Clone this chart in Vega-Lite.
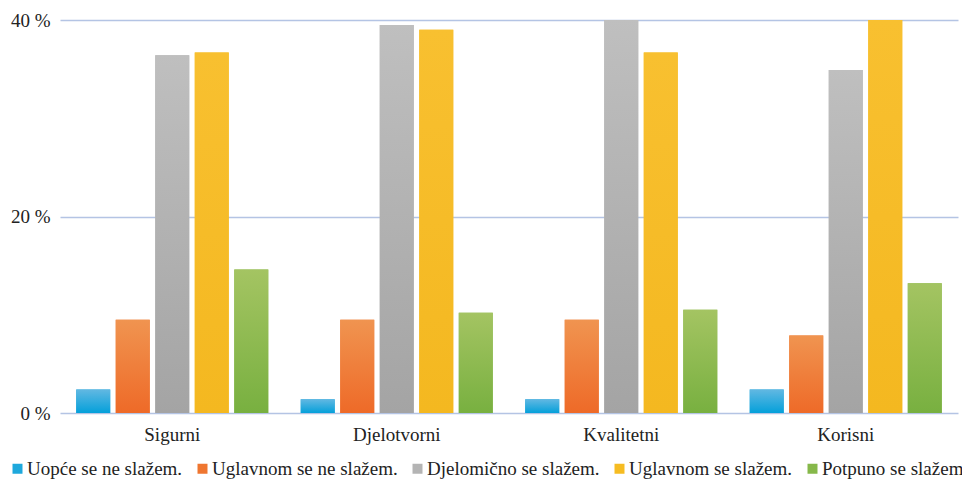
{
  "$schema": "https://vega.github.io/schema/vega-lite/v6.json",
  "width": 898,
  "height": 393,
  "autosize": "none",
  "padding": {"left": 60, "top": 20, "right": 4, "bottom": 69},
  "background": "white",
  "config": {
    "font": "Liberation Serif",
    "view": {"stroke": null}
  },
  "data": {
    "values": [
      {"kat": "Sigurni", "s": "Uopće se ne slažem.", "v": 2.4},
      {"kat": "Sigurni", "s": "Uglavnom se ne slažem.", "v": 9.5},
      {"kat": "Sigurni", "s": "Djelomično se slažem.", "v": 36.4},
      {"kat": "Sigurni", "s": "Uglavnom se slažem.", "v": 36.7},
      {"kat": "Sigurni", "s": "Potpuno se slažem", "v": 14.6},
      {"kat": "Djelotvorni", "s": "Uopće se ne slažem.", "v": 1.4},
      {"kat": "Djelotvorni", "s": "Uglavnom se ne slažem.", "v": 9.5},
      {"kat": "Djelotvorni", "s": "Djelomično se slažem.", "v": 39.5},
      {"kat": "Djelotvorni", "s": "Uglavnom se slažem.", "v": 39.0},
      {"kat": "Djelotvorni", "s": "Potpuno se slažem", "v": 10.2},
      {"kat": "Kvalitetni", "s": "Uopće se ne slažem.", "v": 1.4},
      {"kat": "Kvalitetni", "s": "Uglavnom se ne slažem.", "v": 9.5},
      {"kat": "Kvalitetni", "s": "Djelomično se slažem.", "v": 40.3},
      {"kat": "Kvalitetni", "s": "Uglavnom se slažem.", "v": 36.7},
      {"kat": "Kvalitetni", "s": "Potpuno se slažem", "v": 10.5},
      {"kat": "Korisni", "s": "Uopće se ne slažem.", "v": 2.4},
      {"kat": "Korisni", "s": "Uglavnom se ne slažem.", "v": 7.9},
      {"kat": "Korisni", "s": "Djelomično se slažem.", "v": 34.9},
      {"kat": "Korisni", "s": "Uglavnom se slažem.", "v": 40.0},
      {"kat": "Korisni", "s": "Potpuno se slažem", "v": 13.2}
    ]
  },
  "encoding": {
    "x": {
      "field": "kat", "type": "nominal", "sort": null,
      "scale": {"paddingInner": 0.12, "paddingOuter": 0.06},
      "axis": {"title": null, "labelAngle": 0, "ticks": false, "domain": false, "labelPadding": 12,
        "labelFont": "Liberation Serif", "labelFontSize": 19, "labelColor": "#222222"}
    },
    "xOffset": {
      "field": "s", "type": "nominal", "sort": null,
      "scale": {"paddingInner": 0.14, "paddingOuter": 0.07}
    },
    "y": {
      "field": "v", "type": "quantitative",
      "scale": {"domain": [0, 40], "nice": false, "clamp": true},
      "axis": {"title": null, "values": [0, 20, 40], "ticks": false, "domain": false, "labelPadding": 10,
        "labelFont": "Liberation Serif", "labelFontSize": 19, "labelColor": "#222222",
        "labelExpr": "datum.value + ' %'", "gridColor": "#b4c4e4", "gridWidth": 1.3}
    }
  },
  "layer": [
    {
      "mark": {"type": "bar", "clip": false},
      "encoding": {
        "color": {
          "field": "s", "type": "nominal", "sort": null,
          "scale": {
            "domain": ["Uopće se ne slažem.", "Uglavnom se ne slažem.", "Djelomično se slažem.", "Uglavnom se slažem.", "Potpuno se slažem"],
            "range": ["#1ea8dc", "#ef7630", "#b4b4b4", "#f6bc22", "#86b84a"]
          },
          "legend": {
            "title": null, "orient": "none", "direction": "horizontal", "legendX": -52, "legendY": 439,
            "symbolType": "square", "symbolSize": 100, "symbolStrokeWidth": 0, "labelOffset": 0, "columnPadding": 10,
            "labelFont": "Liberation Serif", "labelFontSize": 19, "labelColor": "#222222", "labelLimit": 300
          }
        }
      }
    },
    {
      "mark": {"type": "bar"},
      "encoding": {
        "fill": {
          "condition": [
            {"test": "datum.s == 'Uopće se ne slažem.'", "value": {"gradient": "linear", "x1": 0, "y1": 0, "x2": 0, "y2": 1, "stops": [{"offset": 0, "color": "#62b8e2"}, {"offset": 1, "color": "#04a0da"}]}},
            {"test": "datum.s == 'Uglavnom se ne slažem.'", "value": {"gradient": "linear", "x1": 0, "y1": 0, "x2": 0, "y2": 1, "stops": [{"offset": 0, "color": "#f09450"}, {"offset": 1, "color": "#ee6a28"}]}},
            {"test": "datum.s == 'Djelomično se slažem.'", "value": {"gradient": "linear", "x1": 0, "y1": 0, "x2": 0, "y2": 1, "stops": [{"offset": 0, "color": "#bfbfbf"}, {"offset": 1, "color": "#a4a4a4"}]}},
            {"test": "datum.s == 'Uglavnom se slažem.'", "value": {"gradient": "linear", "x1": 0, "y1": 0, "x2": 0, "y2": 1, "stops": [{"offset": 0, "color": "#f8c030"}, {"offset": 1, "color": "#f4b820"}]}}
          ],
          "value": {"gradient": "linear", "x1": 0, "y1": 0, "x2": 0, "y2": 1, "stops": [{"offset": 0, "color": "#a4c462"}, {"offset": 1, "color": "#78b040"}]}
        }
      }
    }
  ]
}
